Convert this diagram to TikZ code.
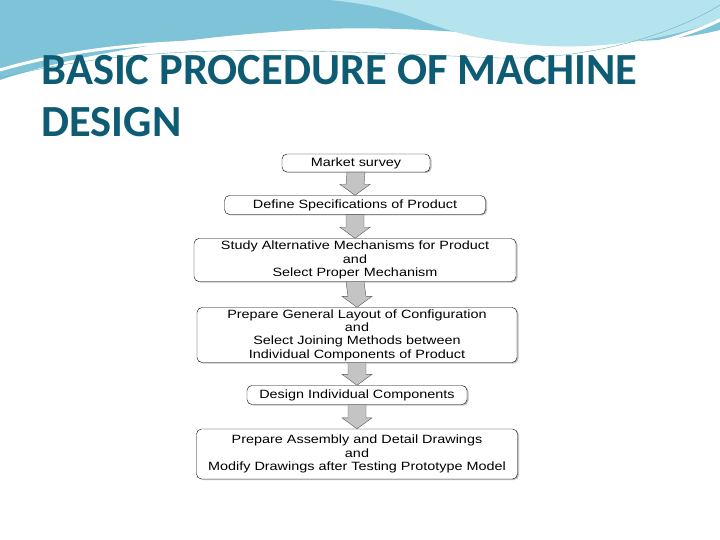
\documentclass[tikz,border=0pt]{standalone}
\usepackage{fontspec}
\setmainfont{Liberation Sans}
\newfontfamily\titlefont{Carlito}
\newfontfamily\boxfont{Liberation Sans}[FakeStretch=1.2]
\usetikzlibrary{shadows,calc}
\definecolor{title_blue}{HTML}{0E5B74}
\definecolor{wave_dark}{HTML}{7FC3D8}
\definecolor{wave_light}{HTML}{B5E4EE}
\definecolor{arrow_gray}{HTML}{C4C4C4}
\tikzset{
  stage/.style={draw=black, thin, rounded corners=5pt, fill=white, align=center,
    font=\boxfont\fontsize{12}{13.3}\selectfont, inner sep=1pt, drop shadow={shadow xshift=1.5pt, shadow yshift=-1pt, opacity=0.5}}
}
\newcommand{\flowarrow}[2]{%
  \fill[arrow_gray, draw=gray!70!black, thin]
    ($(#1.south)+(-9pt,0)$) -- ($(#1.south)+(9pt,0)$) -- ($(#2.north)+(9pt,11pt)$)
    -- ($(#2.north)+(15pt,11pt)$) -- (#2.north) -- ($(#2.north)+(-15pt,11pt)$)
    -- ($(#2.north)+(-9pt,11pt)$) -- cycle;}
\begin{document}
\begin{tikzpicture}[x=1pt,y=1pt]
    \useasboundingbox (0,0) rectangle (720,-540);
    \fill[white] (0,0) rectangle (720,-540);
    % waves on top
    \fill[wave_dark] (0,0) -- (720,0) -- (720,-30) .. controls (600,-60) and (480,-20) .. (300,-30)
      .. controls (150,-40) and (60,-60) .. (0,-80) -- cycle;
    \fill[wave_light] (330,0) -- (720,0) -- (720,-20) .. controls (640,-50) and (520,-60) .. (420,-20)
      .. controls (390,-8) and (360,-3) .. (330,0) -- cycle;
    \draw[white, line width=3pt] (0,-70) .. controls (100,-40) and (250,-30) .. (500,-55)
      .. controls (600,-62) and (680,-40) .. (720,-20);
    \draw[teal!60, thin] (0,-78) .. controls (150,-40) and (300,-50) .. (500,-58)
      .. controls (600,-60) and (680,-30) .. (720,-5);
    % title
    \node[anchor=base west, text=title_blue, font=\titlefont\bfseries\fontsize{44.5}{48}\selectfont] (title1) at (38,-85) {BASIC PROCEDURE OF MACHINE};
    \node[anchor=base west, text=title_blue, font=\titlefont\bfseries\fontsize{44.5}{48}\selectfont] (title2) at (38,-137) {DESIGN};
    % flowchart
    \node[stage, minimum width=148pt, minimum height=18pt] (survey) at (356,-163) {Market survey};
    \node[stage, minimum width=261pt, minimum height=19pt] (specs) at (355,-205) {Define Specifications of Product};
    \node[stage, minimum width=322pt, minimum height=43pt] (mech) at (355,-260) {Study Alternative Mechanisms for Product\\and\\Select Proper Mechanism};
    \node[stage, minimum width=320pt, minimum height=55pt] (layout) at (357,-335) {Prepare General Layout of Configuration\\and\\Select Joining Methods between\\Individual Components of Product};
    \node[stage, minimum width=220pt, minimum height=19pt] (comps) at (357,-395) {Design Individual Components};
    \node[stage, minimum width=321pt, minimum height=50pt] (drawings) at (357,-454) {Prepare Assembly and Detail Drawings\\and\\Modify Drawings after Testing Prototype Model};
    \flowarrow{survey}{specs}
    \flowarrow{specs}{mech}
    \flowarrow{mech}{layout}
    \flowarrow{layout}{comps}
    \flowarrow{comps}{drawings}
\end{tikzpicture}
\end{document}
